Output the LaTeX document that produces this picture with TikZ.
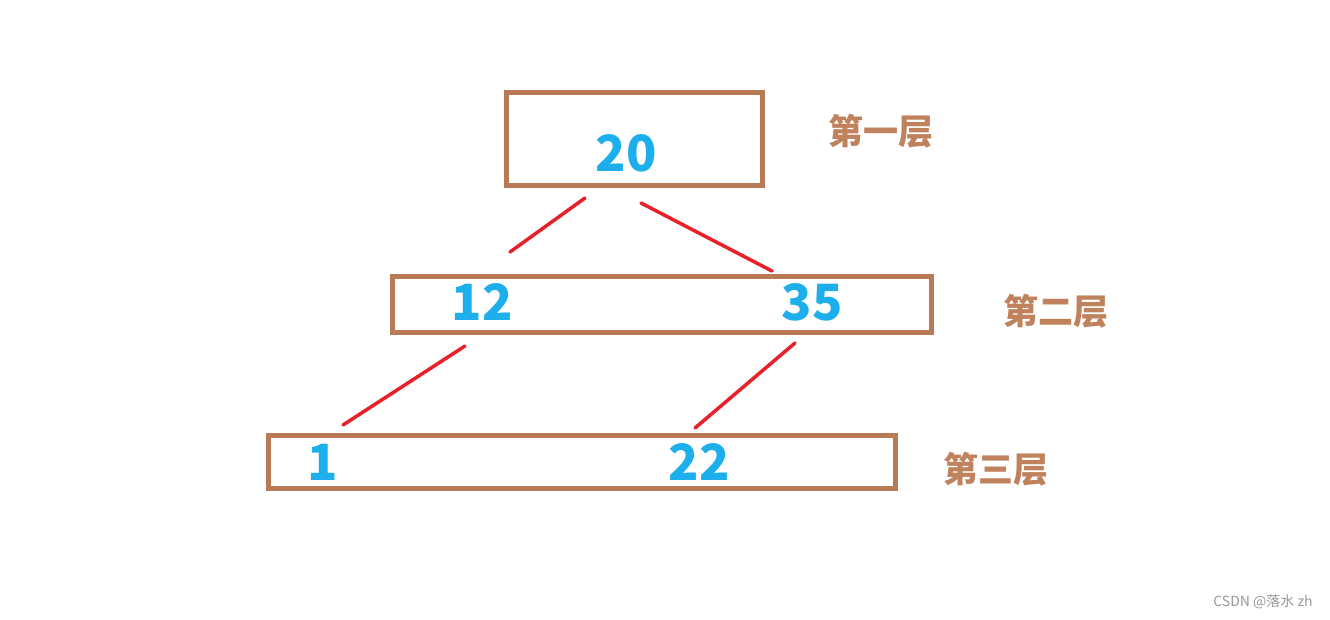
\documentclass[tikz,border=0pt]{standalone}
\usepackage{fontspec}
\setmainfont{Noto Sans CJK SC}
\definecolor{boxc}{HTML}{B87B56}
\definecolor{labc}{HTML}{C0825C}
\definecolor{numc}{HTML}{1DAFEC}
\definecolor{redc}{HTML}{E8202A}
\definecolor{wm}{HTML}{9A9A9A}
\tikzset{
  layer/.style={draw=boxc, line width=5pt, inner sep=0pt, fill=white},
  num/.style={text=numc, font=\fontsize{50}{58}\selectfont\bfseries, inner sep=0pt},
  lab/.style={text=labc, font=\fontsize{35}{40}\selectfont\bfseries, inner sep=0pt},
  link/.style={draw=redc, line width=3.5pt, line cap=round},
}
\begin{document}
\begin{tikzpicture}[x=1pt,y=-1pt]
\useasboundingbox[fill=white] (0,0) rectangle (1330,619);
% boxes
\node[layer, minimum width=256pt, minimum height=93pt] (b1) at (634.5,139) {};
\node[layer, minimum width=539pt, minimum height=56pt] (b2) at (662,304) {};
\node[layer, minimum width=627pt, minimum height=53pt] (b3) at (582,462) {};
% numbers
\node[num] (n20) at (626,153) {20};
\node[num] (n12) at (482,302) {12};
\node[num] (n35) at (812,302) {35};
\node[num] (n1) at (323,462) {1};
\node[num] (n22) at (699,462) {22};
% labels
\node[lab] (l1) at (881,131) {第一层};
\node[lab] (l2) at (1056,311) {第二层};
\node[lab] (l3) at (996,469) {第三层};
% connector ends
\coordinate (a1) at (585,198);
\coordinate (a2) at (510,252);
\coordinate (c1) at (641,203);
\coordinate (c2) at (772,271);
\coordinate (d1) at (465,346);
\coordinate (d2) at (343,425);
\coordinate (e1) at (795,343);
\coordinate (e2) at (695,428);
\draw[link] (a1) -- (a2);
\draw[link] (c1) -- (c2);
\draw[link] (d1) -- (d2);
\draw[link] (e1) -- (e2);
% watermark
\node[text=wm, font=\fontsize{14}{16}\selectfont, inner sep=0pt] (wmk) at (1263,602) {CSDN @落水 zh};
\end{tikzpicture}
\end{document}
